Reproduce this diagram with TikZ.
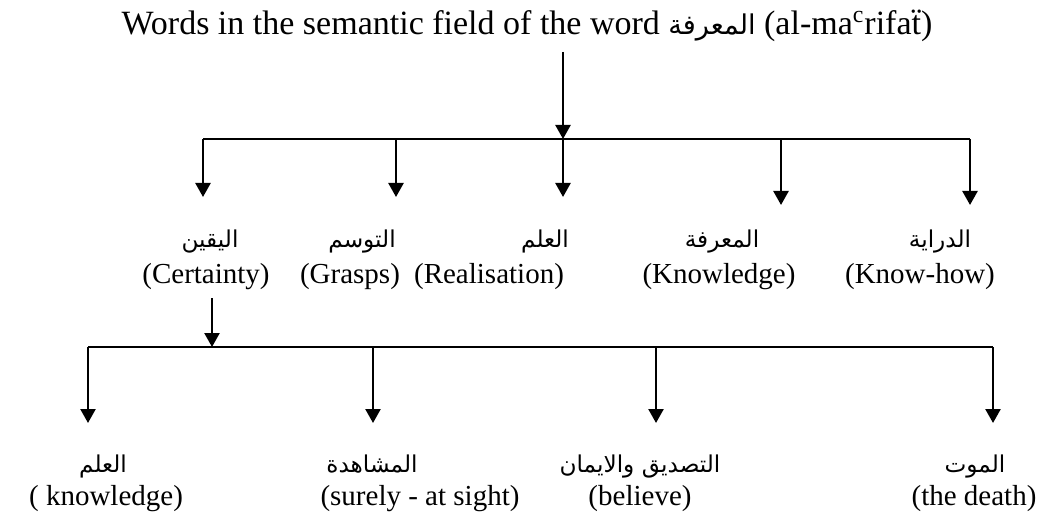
\documentclass[tikz,border=0pt]{standalone}
\usepackage{fontspec}
\setmainfont{Liberation Serif}
\newfontfamily\arabicfont[Script=Arabic,Scale=0.8]{DejaVu Sans}
\TeXXeTstate=1
\usetikzlibrary{arrows.meta}
\newcommand{\ar}[1]{{\arabicfont\beginR #1\endR}}
\begin{document}
\begin{tikzpicture}[x=0.5pt,y=-0.5pt,
  font=\fontsize{14.5pt}{17pt}\selectfont,
  link/.style={line width=1.2pt},
  pointer/.style={line width=1.2pt,-{Triangle[width=7.5pt,length=7pt]}},
  arlabel/.style={inner sep=0pt,anchor=base},
  enlabel/.style={inner sep=0pt,anchor=base},
  heading/.style={inner sep=0pt,anchor=base,font=\fontsize{17pt}{20pt}\selectfont}]
\useasboundingbox (0,0) rectangle (1053,513);

% heading
\node[heading] (title) at (527,35)
  {Words in the semantic field of the word \ar{المعرفة} (al-ma\textsuperscript{c}rifa\"{t})};

% first branching
\coordinate (top)  at (563,52);
\coordinate (hub)  at (563,139);
\coordinate (b1) at (203,139);
\coordinate (b2) at (396,139);
\coordinate (b3) at (563,139);
\coordinate (b4) at (781,139);
\coordinate (b5) at (970,139);
\coordinate (t1) at (203,197);
\coordinate (t2) at (396,197);
\coordinate (t3) at (563,197);
\coordinate (t4) at (781,205);
\coordinate (t5) at (970,205);

\draw[pointer] (top) -- (hub);
\draw[link] (b1) -- (b5);
\foreach \i in {1,...,5} \draw[pointer] (b\i) -- (t\i);

% first level labels
\node[arlabel] (a1) at (210,247) {\ar{اليقين}};
\node[arlabel] (a2) at (362,247) {\ar{التوسم}};
\node[arlabel] (a3) at (545,247) {\ar{العلم}};
\node[arlabel] (a4) at (722,247) {\ar{المعرفة}};
\node[arlabel] (a5) at (940,247) {\ar{الدراية}};
\node[enlabel] (e1) at (206,283) {(Certainty)};
\node[enlabel] (e2) at (350,283) {(Grasps)};
\node[enlabel] (e3) at (489,283) {(Realisation)};
\node[enlabel] (e4) at (719,283) {(Knowledge)};
\node[enlabel] (e5) at (920,283) {(Know-how)};

% second branching
\coordinate (s0) at (212,298);
\coordinate (hub2) at (212,347);
\coordinate (c1) at (88,347);
\coordinate (c2) at (373,347);
\coordinate (c3) at (656,347);
\coordinate (c4) at (993,347);
\coordinate (u1) at (88,423);
\coordinate (u2) at (373,423);
\coordinate (u3) at (656,423);
\coordinate (u4) at (993,423);

\draw[pointer] (s0) -- (hub2);
\draw[link] (c1) -- (c4);
\foreach \i in {1,...,4} \draw[pointer] (c\i) -- (u\i);

% second level labels
\node[arlabel] (d1) at (103,472) {\ar{العلم}};
\node[arlabel] (d2) at (372,472) {\ar{المشاهدة}};
\node[arlabel] (d3) at (640,472) {\ar{التصديق والايمان}};
\node[arlabel] (d4) at (975,472) {\ar{الموت}};
\node[enlabel] (f1) at (106,505) {( knowledge)};
\node[enlabel] (f2) at (420,505) {(surely - at sight)};
\node[enlabel] (f3) at (640,505) {(believe)};
\node[enlabel] (f4) at (974,505) {(the death)};
\end{tikzpicture}
\end{document}
